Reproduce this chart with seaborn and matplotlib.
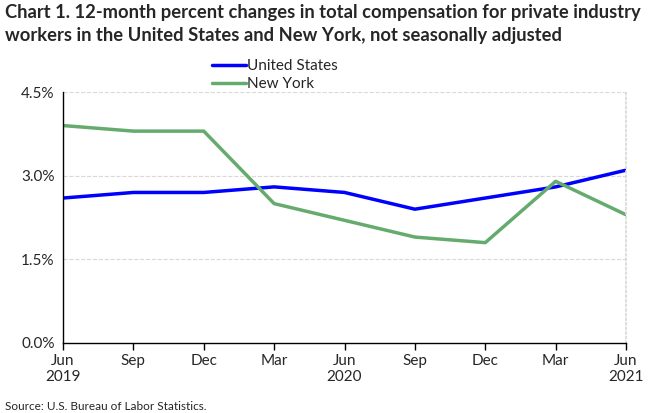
import matplotlib
matplotlib.use("Agg")
import matplotlib.pyplot as plt
import seaborn as sns
import pandas as pd
from matplotlib.ticker import FuncFormatter
from matplotlib.lines import Line2D

# --- Data ---
periods = ["Jun\n2019", "Sep", "Dec", "Mar", "Jun\n2020", "Sep", "Dec", "Mar", "Jun\n2021"]
us_values = [2.6, 2.7, 2.7, 2.8, 2.7, 2.4, 2.6, 2.8, 3.1]
ny_values = [3.9, 3.8, 3.8, 2.5, 2.2, 1.9, 1.8, 2.9, 2.3]
series_names = ["United States", "New York"]
y_ticks = [0.0, 1.5, 3.0, 4.5]

df = pd.DataFrame({
    "idx": list(range(len(periods))) * 2,
    "value": us_values + ny_values,
    "series": [series_names[0]] * len(periods) + [series_names[1]] * len(periods),
})

sns.set_theme(style="white")
plt.rcParams["font.family"] = ["Lato", "DejaVu Sans"]

fig = plt.figure(figsize=(6.66, 4.13), dpi=100)
ax = fig.add_axes([0.0946, 0.1695, 0.8454, 0.6075])

sns.lineplot(
    data=df, x="idx", y="value", hue="series",
    palette={"United States": "#0000ff", "New York": "#66ab6e"},
    linewidth=2.5, ax=ax, legend=False,
)

ax.set_xlim(0, len(periods) - 1)
ax.set_ylim(0, 4.5)
ax.set_yticks(y_ticks)
ax.yaxis.set_major_formatter(FuncFormatter(lambda v, p: f"{v:.1f}%"))
ax.set_xticks(range(len(periods)))
ax.set_xticklabels(periods)
ax.set_xlabel("")
ax.set_ylabel("")

# dashed gridlines like the original
for v in y_ticks[1:]:
    ax.axhline(v, color="#d9d9d9", linestyle="--", linewidth=0.8, zorder=0)

ax.spines["top"].set_visible(False)
ax.spines["right"].set_color("#d9d9d9")
ax.spines["right"].set_linestyle(":")
ax.spines["left"].set_color("black")
ax.spines["bottom"].set_color("black")
ax.spines["left"].set_linewidth(1)
ax.spines["bottom"].set_linewidth(1)

ax.tick_params(axis="x", which="major", direction="out", length=5, width=1,
               color="black", bottom=True, labelsize=11, pad=3)
ax.tick_params(axis="y", length=0, labelsize=11, pad=6)

# legend stacked above the plot like the original
handles = [Line2D([0], [0], color="#0000ff", lw=2.5),
           Line2D([0], [0], color="#66ab6e", lw=2.5)]
fig.legend(handles, series_names, loc="upper center", bbox_to_anchor=(0.413, 0.875),
           frameon=False, fontsize=11, handlelength=2.2, handletextpad=0.1,
           labelspacing=0.25, borderpad=0)

fig.text(0.008, 0.99, "Chart 1. 12-month percent changes in total compensation for private industry\n"
         "workers in the United States and New York, not seasonally adjusted",
         ha="left", va="top", fontsize=13.2, fontweight="bold", linespacing=1.45)
fig.text(0.008, 0.003, "Source: U.S. Bureau of Labor Statistics.", ha="left", va="bottom", fontsize=8.5)

fig.savefig("out.png", dpi=100)
